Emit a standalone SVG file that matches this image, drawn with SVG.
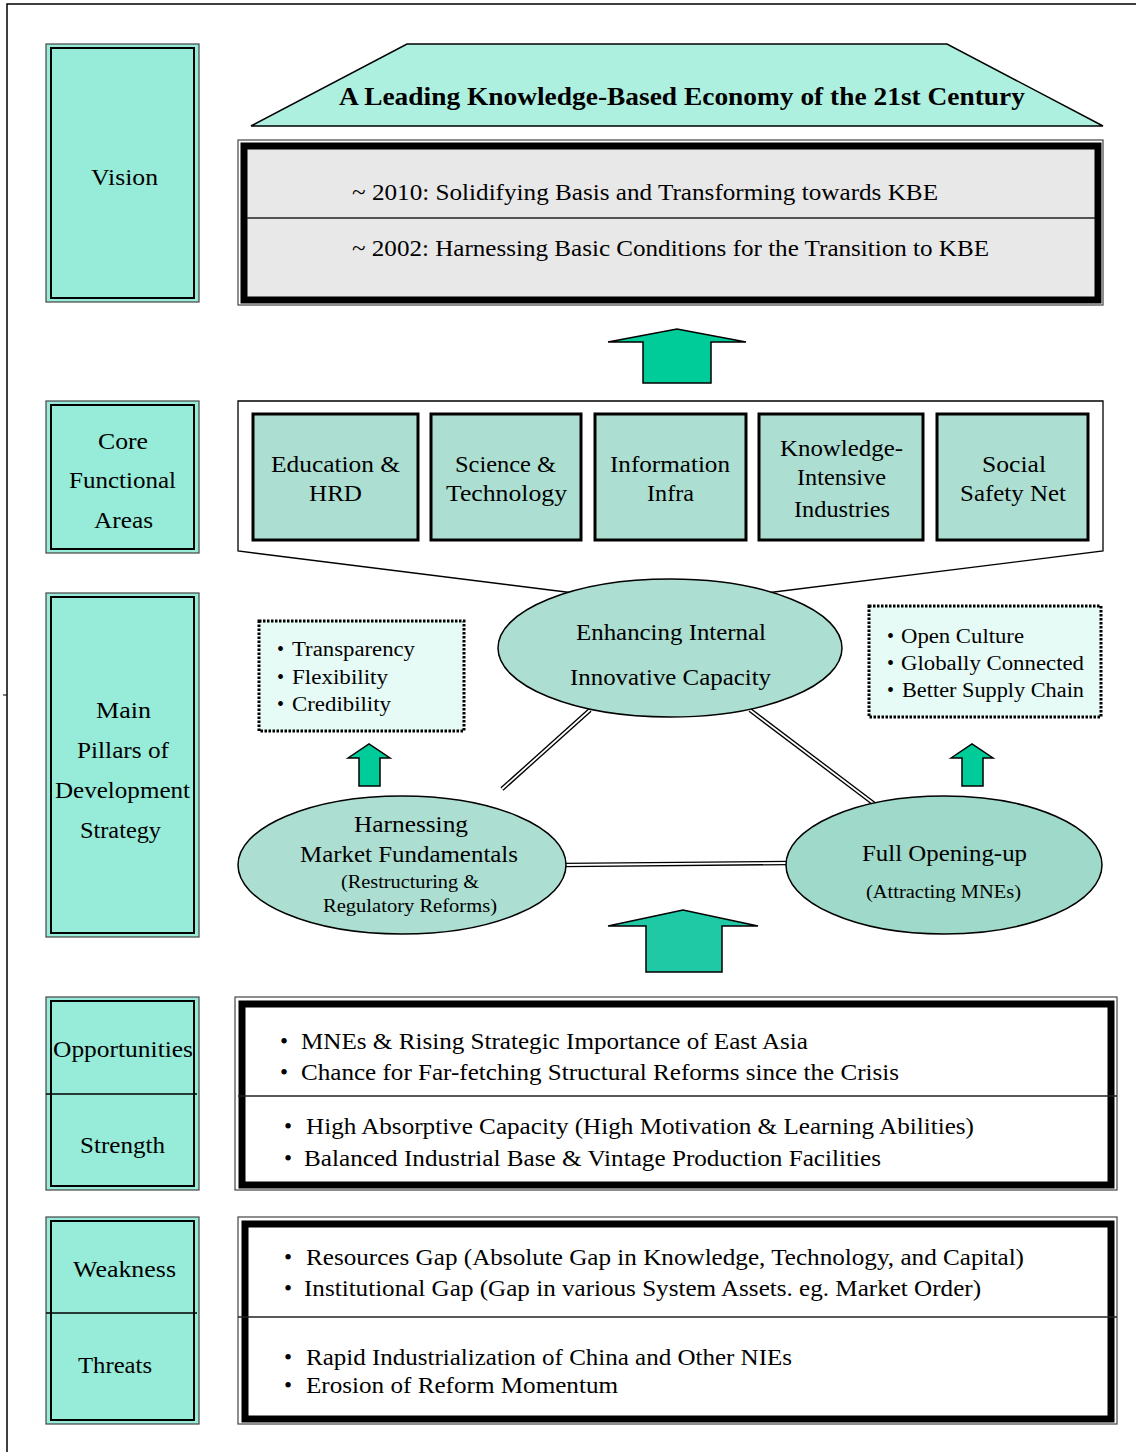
<svg xmlns="http://www.w3.org/2000/svg" width="1136" height="1452" viewBox="0 0 1136 1452">
<style>
text{font-family:"Liberation Serif","Times New Roman",serif;fill:#000}
.lbl{font-size:24px}
.lo{fill:#96ecd9;stroke:#444;stroke-width:1.2}
.li{fill:none;stroke:#000;stroke-width:2}
.core{fill:#acdfd2;stroke:#000;stroke-width:3}
.ct{font-size:24px}
.ell{fill:#acdfd2;stroke:#000;stroke-width:1.5}
.dbl1{stroke:#000;stroke-width:4.5;fill:none}
.dbl2{stroke:#fff;stroke-width:1.8;fill:none}
.arr{fill:#00cc99;stroke:#000;stroke-width:1.5;stroke-linejoin:miter}
.dot{fill:#e6faf6;stroke:#000;stroke-width:3;stroke-dasharray:2.5 1.5}
.bt{font-size:20px}
.sw{font-size:23px}
.thin{fill:#fff;stroke:#444;stroke-width:1.2}
.thick{fill:none;stroke:#000;stroke-width:7}
</style>

<!-- outer frame -->
<g id="frame">
<path d="M7,1452 V4 H1136" fill="none" stroke="#000" stroke-width="1.5"/>
<line x1="3" y1="695" x2="7" y2="695" stroke="#000" stroke-width="1"/>
</g>

<!-- left labels -->
<g id="label-vision">
<rect class="lo" x="46" y="44" width="153" height="258"/>
<rect class="li" x="51" y="48" width="143" height="250"/>
<text class="lbl" x="91" y="185" textLength="67" lengthAdjust="spacingAndGlyphs">Vision</text>
</g>
<g id="label-core">
<rect class="lo" x="46" y="401" width="153" height="152"/>
<rect class="li" x="51" y="405" width="143" height="144"/>
<text class="lbl" x="98" y="449" textLength="50" lengthAdjust="spacingAndGlyphs">Core</text>
<text class="lbl" x="69" y="488" textLength="107" lengthAdjust="spacingAndGlyphs">Functional</text>
<text class="lbl" x="94" y="528" textLength="59" lengthAdjust="spacingAndGlyphs">Areas</text>
</g>
<g id="label-pillars">
<rect class="lo" x="46" y="593" width="153" height="344"/>
<rect class="li" x="51" y="597" width="143" height="336"/>
<text class="lbl" x="96" y="718" textLength="55" lengthAdjust="spacingAndGlyphs">Main</text>
<text class="lbl" x="77" y="758" textLength="92" lengthAdjust="spacingAndGlyphs">Pillars of</text>
<text class="lbl" x="55" y="798" textLength="135" lengthAdjust="spacingAndGlyphs">Development</text>
<text class="lbl" x="80" y="838" textLength="81" lengthAdjust="spacingAndGlyphs">Strategy</text>
</g>
<g id="label-os">
<rect class="lo" x="46" y="997" width="153" height="193"/>
<rect class="li" x="51" y="1001" width="143" height="185"/>
<line x1="46" y1="1094" x2="197" y2="1094" stroke="#000" stroke-width="1.5"/>
<text class="lbl" x="53" y="1057" textLength="140" lengthAdjust="spacingAndGlyphs">Opportunities</text>
<text class="lbl" x="80" y="1153" textLength="85" lengthAdjust="spacingAndGlyphs">Strength</text>
</g>
<g id="label-wt">
<rect class="lo" x="46" y="1217" width="153" height="207"/>
<rect class="li" x="51" y="1221" width="143" height="199"/>
<line x1="46" y1="1313" x2="197" y2="1313" stroke="#000" stroke-width="1.5"/>
<text class="lbl" x="73" y="1277" textLength="103" lengthAdjust="spacingAndGlyphs">Weakness</text>
<text class="lbl" x="78" y="1373" textLength="74" lengthAdjust="spacingAndGlyphs">Threats</text>
</g>

<!-- vision -->
<g id="vision-top">
<polygon points="251,126 407,44 947,44 1103,126" fill="#aef0e0" stroke="#000" stroke-width="1.5"/>
<text x="339" y="105" font-size="26" font-weight="bold" textLength="686" lengthAdjust="spacingAndGlyphs">A Leading Knowledge-Based Economy of the 21st Century</text>
</g>
<g id="vision-stages">
<rect class="thin" x="238" y="140" width="865" height="165"/>
<rect x="244" y="146" width="854" height="154" fill="#e8e8e8" stroke="#000" stroke-width="7"/>
<line x1="247" y1="218" x2="1095" y2="218" stroke="#222" stroke-width="1.5"/>
<text x="352" y="200" font-size="24" textLength="586" lengthAdjust="spacingAndGlyphs">~ 2010: Solidifying Basis and Transforming towards KBE</text>
<text x="352" y="256" font-size="24" textLength="637" lengthAdjust="spacingAndGlyphs">~ 2002: Harnessing Basic Conditions for the Transition to KBE</text>
</g>

<!-- core area container -->
<g id="core-container">
<polygon points="238,401 1103,401 1103,551 670,605 238,551" fill="#fff" stroke="#000" stroke-width="1.3"/>
</g>
<g id="core-edu">
<rect class="core" x="253" y="414" width="165" height="126"/>
<text class="ct" x="271" y="472" textLength="129" lengthAdjust="spacingAndGlyphs">Education &amp;</text>
<text class="ct" x="309" y="501" textLength="53" lengthAdjust="spacingAndGlyphs">HRD</text>
</g>
<g id="core-sci">
<rect class="core" x="431" y="414" width="150" height="126"/>
<text class="ct" x="455" y="472" textLength="101" lengthAdjust="spacingAndGlyphs">Science &amp;</text>
<text class="ct" x="446" y="501" textLength="121" lengthAdjust="spacingAndGlyphs">Technology</text>
</g>
<g id="core-info">
<rect class="core" x="595" y="414" width="151" height="126"/>
<text class="ct" x="610" y="472" textLength="120" lengthAdjust="spacingAndGlyphs">Information</text>
<text class="ct" x="647" y="501" textLength="47" lengthAdjust="spacingAndGlyphs">Infra</text>
</g>
<g id="core-ki">
<rect class="core" x="759" y="414" width="164" height="126"/>
<text class="ct" x="780" y="456" textLength="123" lengthAdjust="spacingAndGlyphs">Knowledge-</text>
<text class="ct" x="797" y="485" textLength="89" lengthAdjust="spacingAndGlyphs">Intensive</text>
<text class="ct" x="794" y="517" textLength="96" lengthAdjust="spacingAndGlyphs">Industries</text>
</g>
<g id="core-ssn">
<rect class="core" x="937" y="414" width="151" height="126"/>
<text class="ct" x="982" y="472" textLength="64" lengthAdjust="spacingAndGlyphs">Social</text>
<text class="ct" x="960" y="501" textLength="106" lengthAdjust="spacingAndGlyphs">Safety Net</text>
</g>

<!-- connectors -->
<g id="connectors">
<line class="dbl1" x1="502" y1="789" x2="590" y2="710"/>
<line class="dbl2" x1="502" y1="789" x2="590" y2="710"/>
<line class="dbl1" x1="750" y1="710" x2="877" y2="806"/>
<line class="dbl2" x1="750" y1="710" x2="877" y2="806"/>
<line class="dbl1" x1="564" y1="865" x2="788" y2="863"/>
<line class="dbl2" x1="564" y1="865" x2="788" y2="863"/>
<polygon class="arr" points="608,342 677,329 746,342 711,342 711,383 643,383 643,342"/>
<polygon class="arr" style="fill:#20c9a6" points="608,926 683,910 758,926 722,926 722,972 646,972 646,926"/>
<polygon class="arr" points="348,758 369,744 390,758 380,758 380,786 359,786 359,758"/>
<polygon class="arr" points="951,758 972,744 993,758 983,758 983,786 962,786 962,758"/>
</g>

<!-- pillars -->
<g id="pillar-innovative">
<ellipse class="ell" cx="670" cy="648" rx="172" ry="69"/>
<text x="576" y="640" font-size="23" textLength="190" lengthAdjust="spacingAndGlyphs">Enhancing Internal</text>
<text x="570" y="685" font-size="23" textLength="201" lengthAdjust="spacingAndGlyphs">Innovative Capacity</text>
</g>
<g id="pillar-market">
<ellipse class="ell" cx="402" cy="865" rx="164" ry="69"/>
<text x="354" y="832" font-size="23" textLength="114" lengthAdjust="spacingAndGlyphs">Harnessing</text>
<text x="300" y="862" font-size="23" textLength="218" lengthAdjust="spacingAndGlyphs">Market Fundamentals</text>
<text x="341" y="888" font-size="18" textLength="138" lengthAdjust="spacingAndGlyphs">(Restructuring &amp;</text>
<text x="323" y="912" font-size="18" textLength="174" lengthAdjust="spacingAndGlyphs">Regulatory Reforms)</text>
</g>
<g id="pillar-opening">
<ellipse class="ell" style="fill:#9fd9c9" cx="944" cy="865" rx="158" ry="69"/>
<text x="862" y="861" font-size="23" textLength="165" lengthAdjust="spacingAndGlyphs">Full Opening-up</text>
<text x="866" y="898" font-size="18" textLength="155" lengthAdjust="spacingAndGlyphs">(Attracting MNEs)</text>
</g>

<g id="market-traits">
<rect class="dot" x="259" y="621" width="205" height="110"/>
<text class="bt" x="277" y="656">•</text>
<text class="bt" x="277" y="684">•</text>
<text class="bt" x="277" y="711">•</text>
<text class="bt" x="292" y="656" textLength="123" lengthAdjust="spacingAndGlyphs">Transparency</text>
<text class="bt" x="292" y="684" textLength="96" lengthAdjust="spacingAndGlyphs">Flexibility</text>
<text class="bt" x="292" y="711" textLength="99" lengthAdjust="spacingAndGlyphs">Credibility</text>
</g>
<g id="opening-traits">
<rect class="dot" x="869" y="606" width="232" height="111"/>
<text class="bt" x="887" y="643">•</text>
<text class="bt" x="887" y="670">•</text>
<text class="bt" x="887" y="697">•</text>
<text class="bt" x="901" y="643" textLength="123" lengthAdjust="spacingAndGlyphs">Open Culture</text>
<text class="bt" x="901" y="670" textLength="183" lengthAdjust="spacingAndGlyphs">Globally Connected</text>
<text class="bt" x="902" y="697" textLength="182" lengthAdjust="spacingAndGlyphs">Better Supply Chain</text>
</g>

<!-- SWOT -->
<g id="swot-os">
<rect class="thin" x="235" y="997" width="882" height="193"/>
<rect class="thick" x="242" y="1004" width="869" height="181"/>
<line x1="238" y1="1096" x2="1117" y2="1096" stroke="#222" stroke-width="1.5"/>
<text class="sw" x="280" y="1049">•</text>
<text class="sw" x="280" y="1080">•</text>
<text class="sw" x="284" y="1134">•</text>
<text class="sw" x="284" y="1166">•</text>
<text class="sw" x="301" y="1049" textLength="507" lengthAdjust="spacingAndGlyphs">MNEs &amp; Rising Strategic Importance of East Asia</text>
<text class="sw" x="301" y="1080" textLength="598" lengthAdjust="spacingAndGlyphs">Chance for Far-fetching Structural Reforms since the Crisis</text>
<text class="sw" x="306" y="1134" textLength="668" lengthAdjust="spacingAndGlyphs">High Absorptive Capacity (High Motivation &amp; Learning Abilities)</text>
<text class="sw" x="304" y="1166" textLength="577" lengthAdjust="spacingAndGlyphs">Balanced Industrial Base &amp; Vintage Production Facilities</text>
</g>
<g id="swot-wt">
<rect class="thin" x="238" y="1217" width="879" height="207"/>
<rect class="thick" x="245" y="1224" width="866" height="195"/>
<line x1="238" y1="1317" x2="1117" y2="1317" stroke="#222" stroke-width="1.5"/>
<text class="sw" x="284" y="1265">•</text>
<text class="sw" x="284" y="1296">•</text>
<text class="sw" x="284" y="1365">•</text>
<text class="sw" x="284" y="1393">•</text>
<text class="sw" x="306" y="1265" textLength="718" lengthAdjust="spacingAndGlyphs">Resources Gap (Absolute Gap in Knowledge, Technology, and Capital)</text>
<text class="sw" x="304" y="1296" textLength="677" lengthAdjust="spacingAndGlyphs">Institutional Gap (Gap in various System Assets. eg. Market Order)</text>
<text class="sw" x="306" y="1365" textLength="486" lengthAdjust="spacingAndGlyphs">Rapid Industrialization of China and Other NIEs</text>
<text class="sw" x="306" y="1393" textLength="312" lengthAdjust="spacingAndGlyphs">Erosion of Reform Momentum</text>
</g>
</svg>
